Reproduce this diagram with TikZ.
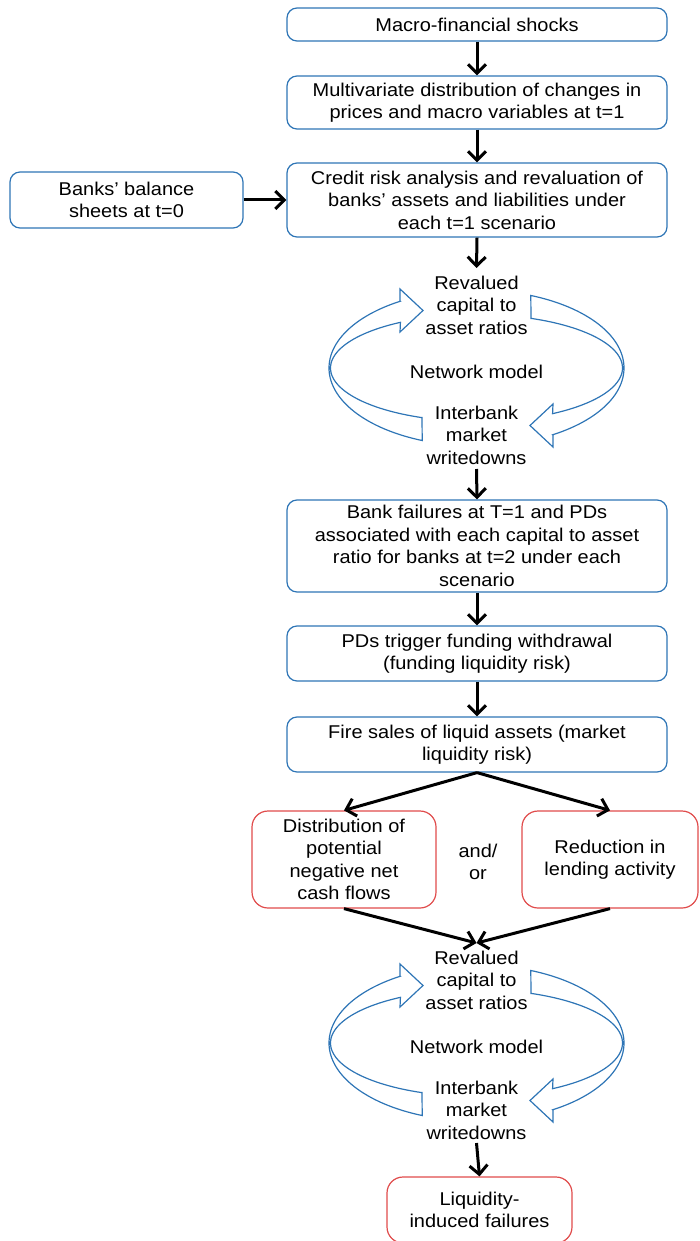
\documentclass[tikz,border=0pt]{standalone}
\usepackage{fontspec}
\setmainfont{Liberation Sans}[FakeStretch=1.08]
\usetikzlibrary{arrows.meta}
\definecolor{bblue}{RGB}{46,117,182}
\definecolor{rred}{RGB}{224,76,76}
\newcommand\fsz{\fontsize{18.5}{22.5}\selectfont}
\newcommand\netloop[2]{%
  \begin{scope}[shift={(0,#1)}]
    \node[txt] (rev#2) at (476.5,305) {Revalued\\capital to\\asset ratios};
    \node[txt] (nm#2) at (476.5,372) {Network model};
    \node[txt] (wd#2) at (476.5,435) {Interbank\\market\\writedowns};
    \draw[loopar] (422,417)
      -- plot[domain=111.9:238.6] ({476.5+146*cos(\x)},{368+53.5*sin(\x)})
      -- (400,332) -- (423,310.5) -- (400,289) -- (400,301)
      -- plot[domain=-238.9:-111.6] ({476.5+147.5*cos(\x)},{368-78*sin(\x)})
      -- cycle;
    \draw[loopar] (531,319)
      -- plot[domain=291.9:418.6] ({476.5+146*cos(\x)},{368+53.5*sin(\x)})
      -- (553,404) -- (530,425.5) -- (553,447) -- (553,435)
      -- plot[domain=-418.9:-291.6] ({476.5+147.5*cos(\x)},{368-78*sin(\x)})
      -- cycle;
  \end{scope}}
\begin{document}
\begin{tikzpicture}[x=1pt,y=-1pt,
  box/.style={draw=bblue, line width=1.2pt, rounded corners=10pt, inner sep=0pt,
    align=center, font=\fsz},
  rbox/.style={box, draw=rred, rounded corners=16pt},
  txt/.style={inner sep=0pt, align=center, font=\fsz},
  arr/.style={line width=3pt, -{Straight Barb[length=9pt,width=18pt]}},
  loopar/.style={draw=bblue, line width=1.2pt, line join=miter, samples=60}]
\useasboundingbox (0,0) rectangle (699,1241);

\node[box, minimum width=380pt, minimum height=33pt] (b1) at (477,24.5) {Macro-financial shocks};
\node[box, minimum width=380pt, minimum height=53pt] (b2) at (477,102.5) {Multivariate distribution of changes in\\prices and macro variables at t=1};
\node[box, minimum width=380pt, minimum height=74pt] (b3) at (477,200) {Credit risk analysis and revaluation of\\banks’ assets and liabilities under\\each t=1 scenario};
\node[box, minimum width=233pt, minimum height=56pt] (b4) at (126.5,200) {Banks’ balance\\sheets at t=0};

\netloop{0}{a}

\node[box, minimum width=380pt, minimum height=92pt] (b5) at (477,546) {Bank failures at T=1 and PDs\\associated with each capital to asset\\ratio for banks at t=2 under each\\scenario};
\node[box, minimum width=380pt, minimum height=55pt] (b6) at (477,653.5) {PDs trigger funding withdrawal\\(funding liquidity risk)};
\node[box, minimum width=380pt, minimum height=55pt] (b7) at (477,744.5) {Fire sales of liquid assets (market\\liquidity risk)};

\node[rbox, minimum width=184pt, minimum height=97pt] (rl) at (344,859.5) {Distribution of\\potential\\negative net\\cash flows};
\node[rbox, minimum width=176pt, minimum height=97pt] (rr) at (610,859.5) {Reduction in\\lending activity};
\node[txt] (andor) at (478,862) {and/\\or};

\netloop{675}{b}

\node[rbox, minimum width=185pt, minimum height=66pt] (lf) at (479.5,1210) {Liquidity-\\induced failures};

\draw[arr] (b1.south) -- (b2.north);
\draw[arr] (b2.south) -- (b3.north);
\draw[arr] (b4.east) -- (b3.west);
\draw[arr] (b3.south) -- ([yshift=37pt]reva.center);
\draw[arr] ([yshift=-34pt]wda.center) -- (b5.north);
\draw[arr] (b5.south) -- (b6.north);
\draw[arr] (b6.south) -- (b7.north);
\draw[arr] (b7.south) -- (rl.north);
\draw[arr] (b7.south) -- (rr.north);
\draw[arr] (rl.south) -- ([yshift=37pt]revb.center);
\draw[arr] (rr.south) -- ([yshift=37pt]revb.center);
\draw[arr] ([yshift=-33pt]wdb.center) -- (lf.north);
\end{tikzpicture}
\end{document}
